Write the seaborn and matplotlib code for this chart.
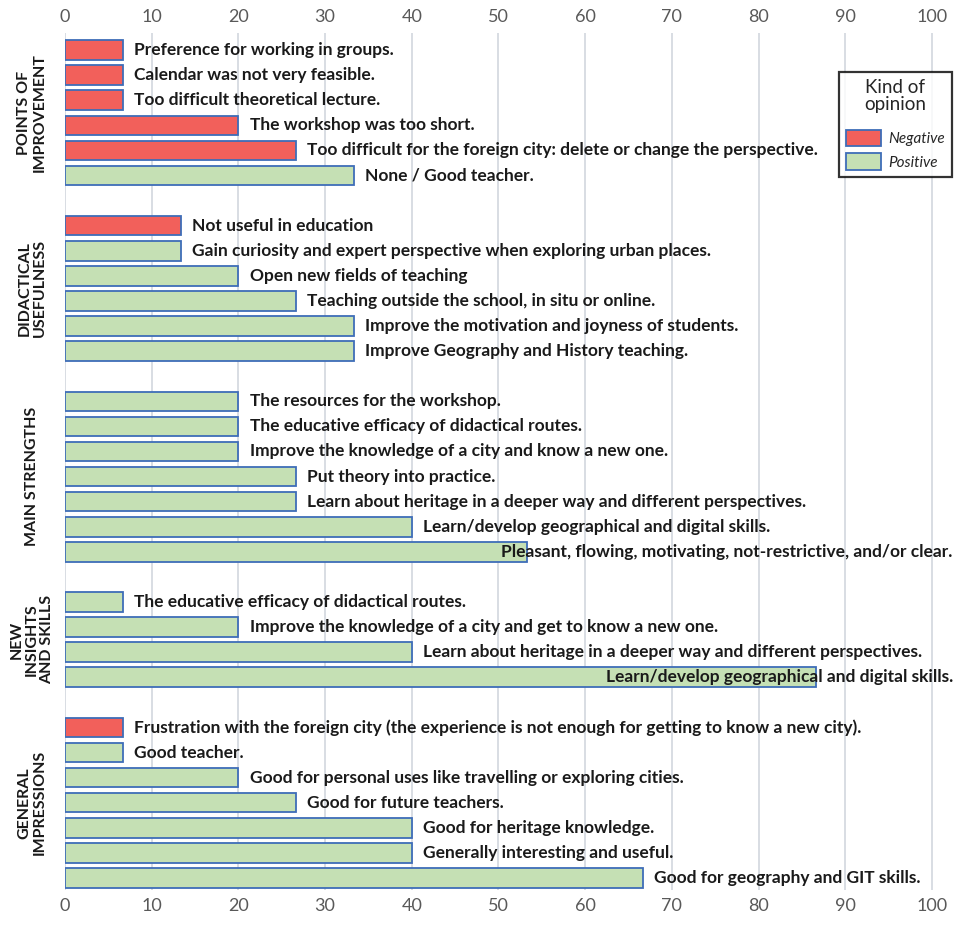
import matplotlib
matplotlib.use("Agg")
import matplotlib.pyplot as plt
from matplotlib.patches import Patch
from matplotlib.transforms import blended_transform_factory
import seaborn as sns
import pandas as pd

sns.set_theme(style="white")
plt.rcParams["font.family"] = ["Lato", "DejaVu Sans"]

# Survey answers (percentage of respondents) grouped by topic
group_titles = ["POINTS OF\nIMPROVEMENT", "DIDACTICAL\nUSEFULNESS", "MAIN STRENGTHS",
                "NEW\nINSIGHTS\nAND SKILLS", "GENERAL\nIMPRESSIONS"]

improvement_items = ["Preference for working in groups.",
                     "Calendar was not very feasible.",
                     "Too difficult theoretical lecture.",
                     "The workshop was too short.",
                     "Too difficult for the foreign city: delete or change the perspective.",
                     "None / Good teacher."]
improvement_values = [6.67, 6.67, 6.67, 20.0, 26.67, 33.33]
improvement_kinds = ["Negative", "Negative", "Negative", "Negative", "Negative", "Positive"]

usefulness_items = ["Not useful in education",
                    "Gain curiosity and expert perspective when exploring urban places.",
                    "Open new fields of teaching",
                    "Teaching outside the school, in situ or online.",
                    "Improve the motivation and joyness of students.",
                    "Improve Geography and History teaching."]
usefulness_values = [13.33, 13.33, 20.0, 26.67, 33.33, 33.33]
usefulness_kinds = ["Negative", "Positive", "Positive", "Positive", "Positive", "Positive"]

strengths_items = ["The resources for the workshop.",
                   "The educative efficacy of didactical routes.",
                   "Improve the knowledge of a city and know a new one.",
                   "Put theory into practice.",
                   "Learn about heritage in a deeper way and different perspectives.",
                   "Learn/develop geographical and digital skills.",
                   "Pleasant, flowing, motivating, not-restrictive, and/or clear."]
strengths_values = [20.0, 20.0, 20.0, 26.67, 26.67, 40.0, 53.33]
strengths_kinds = ["Positive"] * 7

insights_items = ["The educative efficacy of didactical routes.",
                  "Improve the knowledge of a city and get to know a new one.",
                  "Learn about heritage in a deeper way and different perspectives.",
                  "Learn/develop geographical and digital skills."]
insights_values = [6.67, 20.0, 40.0, 86.67]
insights_kinds = ["Positive"] * 4

impressions_items = ["Frustration with the foreign city (the experience is not enough for getting to know a new city).",
                     "Good teacher.",
                     "Good for personal uses like travelling or exploring cities.",
                     "Good for future teachers.",
                     "Good for heritage knowledge.",
                     "Generally interesting and useful.",
                     "Good for geography and GIT skills."]
impressions_values = [6.67, 6.67, 20.0, 26.67, 40.0, 40.0, 66.67]
impressions_kinds = ["Negative"] + ["Positive"] * 6

x_ticks = [0, 10, 20, 30, 40, 50, 60, 70, 80, 90, 100]

groups = [
    (improvement_items, improvement_values, improvement_kinds),
    (usefulness_items, usefulness_values, usefulness_kinds),
    (strengths_items, strengths_values, strengths_kinds),
    (insights_items, insights_values, insights_kinds),
    (impressions_items, impressions_values, impressions_kinds),
]

# Build one long table, leaving an empty row between topics
rows = []
group_spans = []
pos = 0
for items, values, kinds in groups:
    start = pos
    for item, val, kind in zip(items, values, kinds):
        rows.append({"item": item, "value": val, "kind": kind, "pos": pos})
        pos += 1
    group_spans.append((start, pos - 1))
    pos += 1
df = pd.DataFrame(rows)

RED = "#F2605B"
GREEN = "#C5E0B4"
EDGE = "#3E6DB8"
palette = {"Negative": RED, "Positive": GREEN}

fig = plt.figure(figsize=(9.58, 9.30), dpi=100)
ax = fig.add_axes([65 / 958, 1 - 890 / 930, 893 / 958, 857 / 930])

sns.barplot(data=df, x="value", y="pos", hue="kind", orient="h", native_scale=True,
            dodge=False, palette=palette, saturation=1, edgecolor=EDGE, linewidth=1.3,
            width=0.78, errorbar=None, legend=False, ax=ax)

XMAX = 103.0
ax.set_xlim(0, XMAX)
ax.set_ylim(33.48, -0.68)
ax.set_xticks(x_ticks)
ax.set_xticklabels([str(t) for t in x_ticks])
ax.set_yticks([])
ax.set_xlabel("")
ax.set_ylabel("")
ax.tick_params(axis="x", top=True, labeltop=True, bottom=True, labelbottom=True,
               length=0, labelsize=13, labelcolor="#595959", pad=6)
ax.grid(axis="x", color="#D6DAE0", linewidth=1.3)
ax.set_axisbelow(True)
for sp in ax.spines.values():
    sp.set_visible(False)

# Bar captions: to the right of the bar, pulled back inside if they run off the edge
fig.canvas.draw()
renderer = fig.canvas.get_renderer()
right_px = ax.transData.transform((XMAX - 0.4, 0))[0]
for _, r in df.iterrows():
    t = ax.text(r["value"] + 1.3, r["pos"], r["item"], ha="left", va="center",
                fontsize=12.5, fontweight="bold", color="#1a1a1a")
    bb = t.get_window_extent(renderer)
    if bb.x1 > right_px:
        t.set_x(XMAX - 0.6)
        t.set_ha("right")

# Topic names, rotated along the left margin
trans = blended_transform_factory(fig.transFigure, ax.transData)
for title, (a, b) in zip(group_titles, group_spans):
    ax.text(32 / 958, (a + b) / 2, title, transform=trans, rotation=90,
            ha="center", va="center", fontsize=11.5, fontweight="bold",
            color="#1a1a1a", linespacing=1.1, multialignment="center")

handles = [Patch(facecolor=RED, edgecolor=EDGE, linewidth=1.3, label="Negative"),
           Patch(facecolor=GREEN, edgecolor=EDGE, linewidth=1.3, label="Positive")]
leg = ax.legend(handles=handles, title="Kind of\nopinion", loc="upper right",
                bbox_to_anchor=(952 / 958, 1 - 72 / 930), bbox_transform=fig.transFigure,
                frameon=True, fancybox=False, fontsize=11, title_fontsize=13.5,
                handlelength=2.3, handleheight=1.3, handletextpad=0.5,
                borderpad=0.45, borderaxespad=0, labelspacing=0.45)
leg.get_frame().set_edgecolor("black")
leg.get_frame().set_linewidth(1.6)
for txt in leg.get_texts():
    txt.set_fontstyle("italic")
leg.get_title().set_multialignment("center")
leg.get_title().set_linespacing(1.0)
leg._legend_box.sep = 12

fig.savefig("out.png", dpi=100, facecolor="white")
